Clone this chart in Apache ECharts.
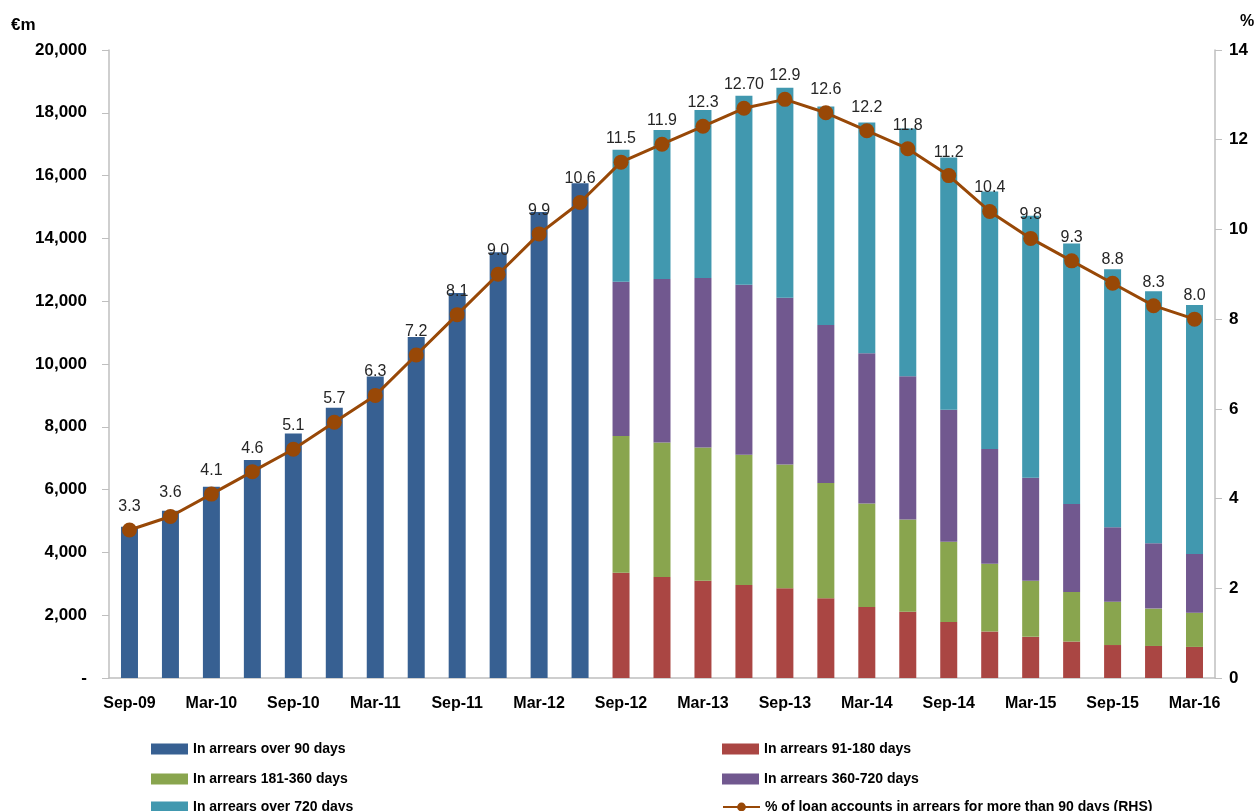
<!DOCTYPE html>
<html>
<head>
<meta charset="utf-8">
<script src="https://cdn.jsdelivr.net/npm/echarts@6/dist/echarts.min.js"></script>
<style>
  html, body { margin: 0; padding: 0; background: #fff; }
  #chart { width: 1260px; height: 811px; }
</style>
</head>
<body>
<div id="chart"></div>
<script>
// quarterly categories, Sep-09 .. Mar-16
const categories = ['Sep-09', 'Dec-09', 'Mar-10', 'Jun-10', 'Sep-10', 'Dec-10', 'Mar-11', 'Jun-11', 'Sep-11',
    'Dec-11', 'Mar-12', 'Jun-12', 'Sep-12', 'Dec-12', 'Mar-13', 'Jun-13', 'Sep-13', 'Dec-13', 'Mar-14',
    'Jun-14', 'Sep-14', 'Dec-14', 'Mar-15', 'Jun-15', 'Sep-15', 'Dec-15', 'Mar-16'];

// €m, only the old single series up to Jun-12
const over90 = [4820, 5330, 6090, 6940, 7790, 8610, 9600, 10860, 12260, 13560, 14840, 15760,
    null, null, null, null, null, null, null, null, null, null, null, null, null, null, null];

// breakdown from Sep-12 on
const pad = new Array(12).fill(null);
const d91_180 = pad.concat([3350, 3220, 3100, 2960, 2860, 2540, 2260, 2110, 1780, 1480, 1310, 1160, 1050, 1020, 990]);
const d181_360 = pad.concat([4360, 4280, 4240, 4150, 3940, 3670, 3300, 2940, 2560, 2160, 1790, 1580, 1380, 1190, 1090]);
const d360_720 = pad.concat([4910, 5210, 5400, 5410, 5310, 5030, 4780, 4560, 4200, 3650, 3280, 2800, 2370, 2080, 1870]);
const over720 = pad.concat([4200, 4740, 5350, 6020, 6690, 6960, 7350, 7890, 8040, 8200, 8340, 8300, 8220, 8030, 7930]);

// % of accounts in arrears > 90 days (RHS)
const pctArrears = [3.3, 3.6, 4.1, 4.6, 5.1, 5.7, 6.3, 7.2, 8.1, 9.0, 9.9, 10.6, 11.5, 11.9, 12.3, 12.7, 12.9,
    12.6, 12.2, 11.8, 11.2, 10.4, 9.8, 9.3, 8.8, 8.3, 8.0];
const pctLabels = ['3.3', '3.6', '4.1', '4.6', '5.1', '5.7', '6.3', '7.2', '8.1', '9.0', '9.9', '10.6', '11.5',
    '11.9', '12.3', '12.70', '12.9', '12.6', '12.2', '11.8', '11.2', '10.4', '9.8', '9.3', '8.8', '8.3', '8.0'];

const names = {
    over90: 'In arrears over 90 days',
    d91: 'In arrears 91-180 days',
    d181: 'In arrears 181-360 days',
    d360: 'In arrears 360-720 days',
    over720: 'In arrears over 720 days',
    pct: '% of loan accounts in arrears for more than 90 days (RHS)'
};

const FONT = '"Liberation Sans", Arial, sans-serif';
const axisGrey = '#bfbfbf';

const myChart = echarts.init(document.getElementById('chart'));

function barSeries(name, data, color) {
    return {
        name: name, type: 'bar', stack: 'arrears', data: data, barWidth: 17,
        itemStyle: { color: color }, emphasis: { disabled: true }
    };
}

// one legend per entry: two columns, three rows (last row runs off the bottom edge)
const legendText = { fontFamily: FONT, fontSize: 14, fontWeight: 'bold', color: '#000' };
function legendAt(name, left, top, icon) {
    const l = { left: left, top: top, itemWidth: 37, itemHeight: 11, textStyle: legendText, data: [name] };
    if (icon) l.icon = icon;
    return l;
}

const option = {
    animation: false,
    textStyle: { fontFamily: FONT },
    grid: { left: 109, right: 45, top: 50, bottom: 133, containLabel: false },
    graphic: [
        { type: 'text', left: 11, top: 17, style: { text: '€m', font: 'bold 17px ' + FONT, fill: '#000' } },
        { type: 'text', left: 1240, top: 14, style: { text: '%', font: 'bold 16px ' + FONT, fill: '#000' } }
    ],
    legend: [
        legendAt(names.over90, 146, 737, 'rect'),
        legendAt(names.d181, 146, 767, 'rect'),
        legendAt(names.over720, 146, 795, 'rect'),
        legendAt(names.d91, 717, 737, 'rect'),
        legendAt(names.d360, 717, 767, 'rect'),
        legendAt(names.pct, 717, 795)
    ],
    xAxis: {
        type: 'category', data: categories, boundaryGap: true,
        axisLine: { lineStyle: { color: axisGrey, width: 1.5 } },
        axisTick: { interval: 0, length: 6, lineStyle: { color: axisGrey } },
        axisLabel: { interval: 1, margin: 18, fontSize: 16, fontWeight: 'bold', color: '#000' }
    },
    yAxis: [
        {
            type: 'value', min: 0, max: 20000, interval: 2000,
            splitLine: { show: false },
            axisLine: { show: true, lineStyle: { color: axisGrey, width: 1.5 } },
            axisTick: { show: true, length: 7, lineStyle: { color: axisGrey } },
            axisLabel: {
                margin: 22, fontSize: 17, fontWeight: 'bold', color: '#000',
                formatter: v => v === 0 ? '-' : v.toLocaleString('en-US')
            }
        },
        {
            type: 'value', min: 0, max: 14, interval: 2, position: 'right',
            splitLine: { show: false },
            axisLine: { show: true, lineStyle: { color: axisGrey, width: 1.5 } },
            axisTick: { show: true, length: 7, lineStyle: { color: axisGrey } },
            axisLabel: { margin: 14, fontSize: 17, fontWeight: 'bold', color: '#000' }
        }
    ],
    series: [
        barSeries(names.over90, over90, '#376092'),
        barSeries(names.d91, d91_180, '#aa4643'),
        barSeries(names.d181, d181_360, '#89a54e'),
        barSeries(names.d360, d360_720, '#71588f'),
        barSeries(names.over720, over720, '#4198af'),
        {
            name: names.pct, type: 'line', yAxisIndex: 1, data: pctArrears,
            symbol: 'circle', symbolSize: 15,
            lineStyle: { color: '#984807', width: 3 },
            itemStyle: { color: '#984807' },
            emphasis: { disabled: true },
            label: {
                show: true, position: 'top', distance: 8, fontSize: 16, color: '#262626',
                formatter: p => pctLabels[p.dataIndex]
            },
            z: 5
        }
    ]
};
myChart.setOption(option);
window.addEventListener('resize', () => myChart.resize());
</script>
</body>
</html>
